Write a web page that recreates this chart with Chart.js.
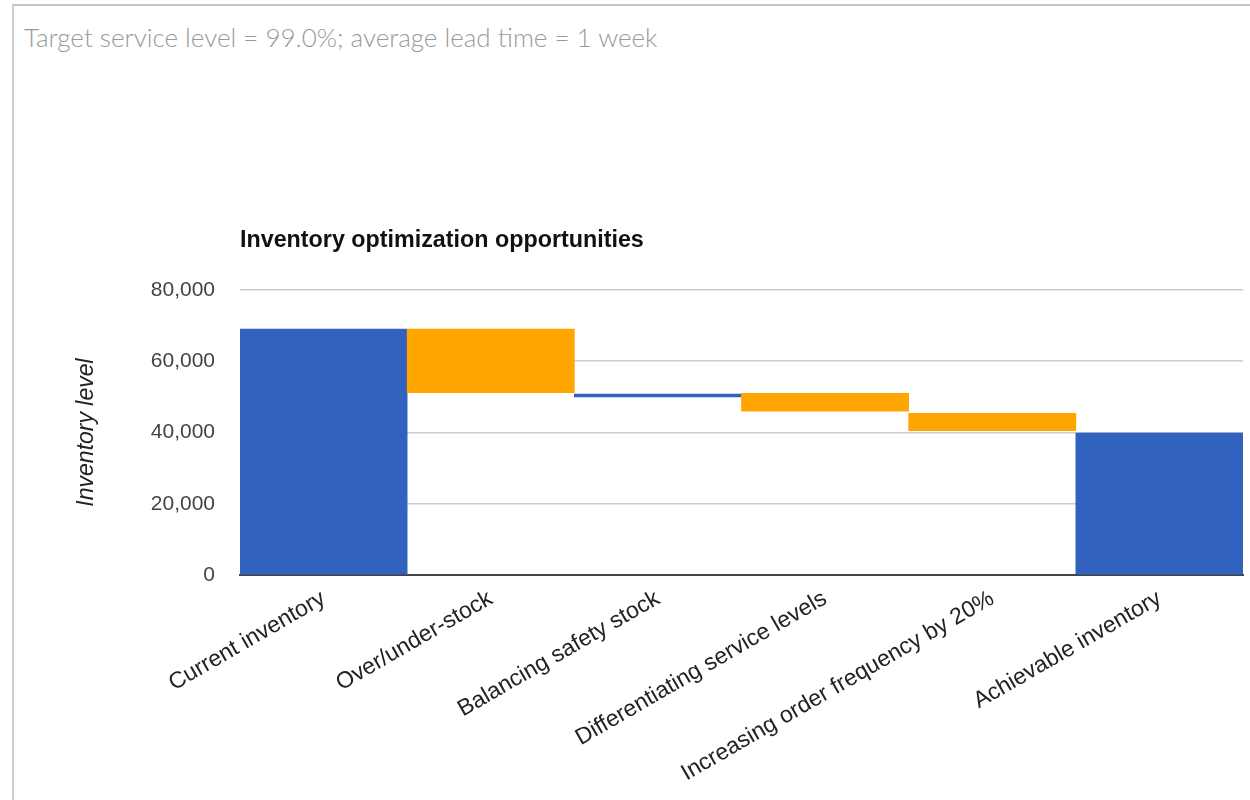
<!DOCTYPE html>
<html>
<head>
<meta charset="utf-8">
<script src="https://cdn.jsdelivr.net/npm/chart.js@4"></script>
<style>
  html, body { margin: 0; padding: 0; background: #fff; width: 1250px; height: 800px; overflow: hidden; }
  #frame { position: absolute; left: 12px; top: 4px; width: 1300px; height: 900px;
           border-left: 2px solid #cfcfcf; border-top: 2px solid #c4c4c4; }
  #subtitle { position: absolute; left: 24px; top: 22px; font-family: Lato, "Open Sans", sans-serif;
              font-size: 26px; font-weight: 300; color: #999; white-space: nowrap; line-height: 30px; }
  #wrap { position: absolute; left: 0; top: 0; width: 1250px; height: 800px; }
</style>
</head>
<body>
<div id="frame"></div>
<div id="subtitle">Target service level = 99.0%; average lead time = 1 week</div>
<div id="wrap"><canvas id="c" width="1250" height="800"></canvas></div>
<script>
// ---- data ----
const categories = ['Current inventory', 'Over/under-stock', 'Balancing safety stock',
                    'Differentiating service levels', 'Increasing order frequency by 20%', 'Achievable inventory'];
const lowValues  = [0,     51200, 50000, 46000, 40500, 0];
const highValues = [69000, 69000, 50800, 51000, 45400, 39800];
const barKinds   = ['total', 'decrease', 'increase', 'decrease', 'decrease', 'total'];
const yTicks     = [0, 20000, 40000, 60000, 80000];
const chartTitle = 'Inventory optimization opportunities';
const yAxisTitle = 'Inventory level';

// ---- styles ----
const kindColors = { total: '#3162c0', increase: '#3162c0', decrease: '#ffa500' };
const FONT = 'Arial, "Liberation Sans", sans-serif';

const ranges = categories.map((_, i) => [lowValues[i], highValues[i]]);

new Chart(document.getElementById('c'), {
  type: 'bar',
  data: {
    labels: categories,
    datasets: [{
      data: ranges,
      backgroundColor: barKinds.map(k => kindColors[k]),
      borderWidth: 0,
      categoryPercentage: 1.0,
      barPercentage: 1.0
    }]
  },
  options: {
    responsive: false,
    animation: false,
    layout: { padding: { top: 227, right: 7, bottom: 0, left: 0 } },
    plugins: {
      legend: { display: false },
      tooltip: { enabled: false },
      title: {
        display: true,
        text: chartTitle,
        align: 'start',
        fullSize: false,
        color: '#111',
        font: { family: FONT, size: 23.3, weight: 'bold' },
        padding: { top: 0, bottom: 35 }
      }
    },
    scales: {
      x: {
        grid: { display: false, drawTicks: false },
        border: { display: true, color: '#444', width: 2 },
        ticks: {
          color: '#222',
          font: { family: FONT, size: 23 },
          minRotation: 30, maxRotation: 30,
          autoSkip: false,
          padding: 10
        },
        afterFit: s => { s.height = 225; }
      },
      y: {
        min: 0, max: 80000,
        afterBuildTicks: s => { s.ticks = yTicks.map(v => ({ value: v })); },
        grid: { color: '#cccccc', lineWidth: 1.5, drawTicks: false },
        border: { display: false },
        ticks: {
          color: '#444',
          font: { family: FONT, size: 21 },
          padding: 25,
          callback: v => Number(v).toLocaleString('en-US')
        },
        title: {
          display: true,
          text: yAxisTitle,
          color: '#222',
          font: { family: FONT, size: 23, style: 'italic' },
          padding: { top: 73, bottom: 0 }
        },
        afterFit: s => { s.width = 240; }
      }
    }
  }
});
</script>
</body>
</html>
